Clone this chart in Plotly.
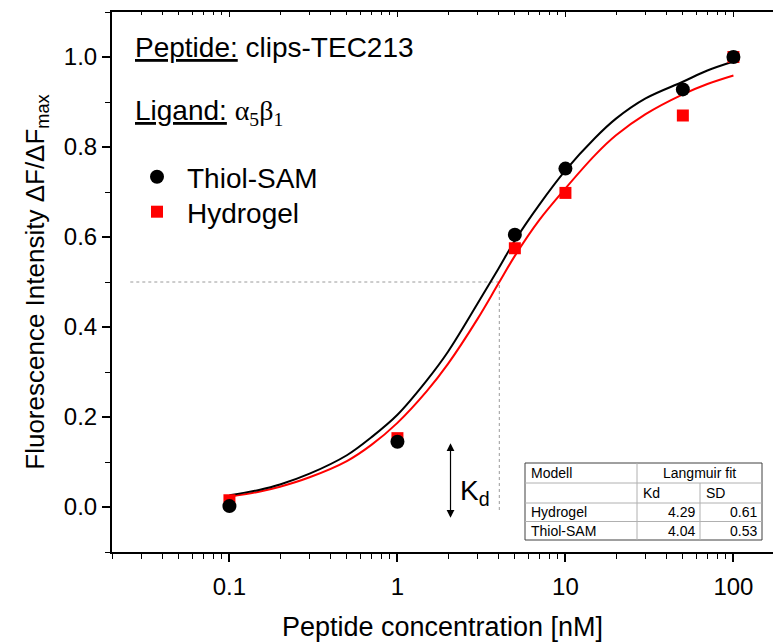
import math
import plotly.graph_objects as go

# ---------------- data ----------------
conc = [0.1, 1, 5, 10, 50, 100]                      # peptide concentration [nM]
thiol_sam = [0.002, 0.145, 0.605, 0.752, 0.928, 1.0]
hydrogel = [0.015, 0.153, 0.575, 0.698, 0.87, 1.0]

fit_x = [0.1, 0.15, 0.2, 0.3, 0.5, 0.7, 1, 1.5, 2, 3, 4, 5, 7, 10, 15, 20, 30, 50, 70, 100]
fit_thiol = [0.026, 0.038, 0.050, 0.074, 0.115, 0.155, 0.205, 0.282, 0.345, 0.452, 0.530, 0.592,
             0.672, 0.748, 0.820, 0.863, 0.908, 0.945, 0.970, 0.99]
fit_hydro = [0.023, 0.034, 0.045, 0.066, 0.102, 0.138, 0.187, 0.258, 0.318, 0.418, 0.497, 0.558,
             0.638, 0.708, 0.782, 0.826, 0.873, 0.917, 0.940, 0.959]

kd_ref = 4.04           # dotted guide (Thiol-SAM Kd)
half = 0.5
guide_x_start = 0.0257
guide_y_end = -0.01
arrow_x = 2.07
arrow_y = [-0.024, 0.145]

x_ticks = [0.1, 1, 10, 100]
x_ticktext = ["0.1", "1", "10", "100"]
minor_x = [m * 10 ** e for e in range(-2, 3) for m in range(2, 10)]

table_rows = [["Modell", "Langmuir fit", ""],
              ["", "Kd", "SD"],
              ["Hydrogel", "4.29", "0.61"],
              ["Thiol-SAM", "4.04", "0.53"]]

# ---------------- layout geometry ----------------
W, H = 773, 642
L, R, T, B = 112, 0, 12, 90
PW, PH = W - L - R, H - T - B
DECADE = 168.0
x_lo = math.log10(0.02)
x_hi = x_lo + PW / DECADE


def px_x(p):
    return (p - L) / PW


def px_y(p):
    return (H - B - p) / PH


FONT = "Liberation Sans, Arial, sans-serif"

fig = go.Figure()

# guide lines
fig.add_trace(go.Scatter(x=[guide_x_start, kd_ref, kd_ref], y=[half, half, guide_y_end],
                         mode="lines", line=dict(color="#9a9a9a", width=1, dash="dot"),
                         showlegend=False, hoverinfo="skip"))

# fit curves
fig.add_trace(go.Scatter(x=fit_x, y=fit_hydro, mode="lines", line=dict(color="#ff0000", width=2, shape="spline"),
                         showlegend=False, hoverinfo="skip"))
fig.add_trace(go.Scatter(x=fit_x, y=fit_thiol, mode="lines", line=dict(color="#000000", width=2, shape="spline"),
                         showlegend=False, hoverinfo="skip"))

# data points
fig.add_trace(go.Scatter(x=conc, y=hydrogel, mode="markers", name="Hydrogel",
                         marker=dict(symbol="square", size=12, color="#ff0000"),
                         legend="legend2"))
fig.add_trace(go.Scatter(x=conc, y=thiol_sam, mode="markers", name="Thiol-SAM",
                         marker=dict(symbol="circle", size=14, color="#000000"),
                         legend="legend"))

# invisible trace to activate the top axis
fig.add_trace(go.Scatter(x=[conc[0]], y=[None], xaxis="x2", mode="markers",
                         showlegend=False, hoverinfo="skip"))

BIG = 28
annotations = []
annotations.append(dict(xref="paper", yref="paper", x=px_x(133), y=px_y(48), xanchor="left", yanchor="middle",
                        text="<u>Peptide:</u> clips-TEC213", showarrow=False,
                        font=dict(family=FONT, size=BIG, color="black")))
annotations.append(dict(xref="paper", yref="paper", x=px_x(133), y=px_y(112), xanchor="left", yanchor="middle",
                        text="<u>Ligand:</u> <span style=\"font-family:'Liberation Serif'\">α<sub>5</sub>β<sub>1</sub></span>",
                        showarrow=False, font=dict(family=FONT, size=BIG, color="black")))
annotations.append(dict(xref="paper", yref="paper", x=px_x(458), y=px_y(492), xanchor="left", yanchor="middle",
                        text="K<sub>d</sub>", showarrow=False, font=dict(family=FONT, size=BIG, color="black")))
# Kd double arrow
annotations.append(dict(x=math.log10(arrow_x), y=arrow_y[0], ax=math.log10(arrow_x), ay=arrow_y[1],
                        xref="x", yref="y", axref="x", ayref="y", text="", showarrow=True,
                        arrowhead=2, startarrowhead=2, arrowside="end+start",
                        arrowwidth=1.2, arrowsize=1.3, startarrowsize=1.3, arrowcolor="black"))

# table
col_x = [525, 637, 700, 762]
row_y = [463, 483, 503, 521.5, 540]
shapes = []
shapes.append(dict(type="rect", xref="paper", yref="paper", x0=px_x(col_x[0]), x1=px_x(col_x[3]),
                   y0=px_y(row_y[0]), y1=px_y(row_y[4]), line=dict(color="#404040", width=1),
                   fillcolor="white", layer="above"))
for ry in row_y[1:4]:
    shapes.append(dict(type="line", xref="paper", yref="paper", x0=px_x(col_x[0]), x1=px_x(col_x[3]),
                       y0=px_y(ry), y1=px_y(ry), line=dict(color="#b0b0b0", width=1)))
shapes.append(dict(type="line", xref="paper", yref="paper", x0=px_x(col_x[1]), x1=px_x(col_x[1]),
                   y0=px_y(row_y[0]), y1=px_y(row_y[4]), line=dict(color="#b0b0b0", width=1)))
shapes.append(dict(type="line", xref="paper", yref="paper", x0=px_x(col_x[2]), x1=px_x(col_x[2]),
                   y0=px_y(row_y[1]), y1=px_y(row_y[4]), line=dict(color="#b0b0b0", width=1)))

TFONT = dict(family=FONT, size=14, color="black")
for ri, row in enumerate(table_rows):
    yc = px_y((row_y[ri] + row_y[ri + 1]) / 2)
    for ci, txt in enumerate(row):
        if not txt:
            continue
        if ri == 0 and ci == 1:
            x, xa = px_x((col_x[1] + col_x[3]) / 2), "center"
        elif ci == 0 or ri == 1:
            x, xa = px_x(col_x[ci] + 4), "left"
        else:
            x, xa = px_x(col_x[ci + 1] - 3), "right"
        annotations.append(dict(xref="paper", yref="paper", x=x, y=yc, xanchor=xa, yanchor="middle",
                                text=txt, showarrow=False, font=TFONT))

fig.update_layout(
    width=W, height=H,
    margin=dict(l=L, r=R, t=T, b=B, pad=0),
    paper_bgcolor="white", plot_bgcolor="white",
    font=dict(family=FONT, color="black"),
    xaxis=dict(type="log", range=[x_lo, x_hi], showline=True, linecolor="black", linewidth=2,
               tickmode="array", tickvals=x_ticks, ticktext=x_ticktext,
               ticks="outside", ticklen=8, tickwidth=1.5, tickcolor="black",
               ticklabelstandoff=4,
               tickfont=dict(family=FONT, size=24),
               minor=dict(tickmode="array", tickvals=minor_x, ticks="outside", ticklen=5,
                          tickwidth=1.2, tickcolor="black", showgrid=False),
               showgrid=False, zeroline=False,
               title=dict(text="Peptide concentration [nM]", font=dict(family=FONT, size=27), standoff=20)),
    xaxis2=dict(type="log", overlaying="x", matches="x", side="top", anchor="y", range=[x_lo, x_hi],
                showline=True, linecolor="black", linewidth=1.5,
                tickmode="array", tickvals=x_ticks, showticklabels=False,
                ticks="inside", ticklen=5, tickwidth=1, tickcolor="black",
                minor=dict(tickmode="array", tickvals=minor_x, ticks="inside", ticklen=3,
                           tickwidth=1, tickcolor="black", showgrid=False),
                showgrid=False, zeroline=False),
    yaxis=dict(range=[-0.1, 1.1], showline=True, linecolor="black", linewidth=2,
               tick0=0, dtick=0.2, tickformat=".1f",
               ticks="outside", ticklen=8, tickwidth=1.5, tickcolor="black",
               tickfont=dict(family=FONT, size=24),
               minor=dict(dtick=0.1, tick0=0, ticks="outside", ticklen=5, tickwidth=1.2,
                          tickcolor="black", showgrid=False),
               showgrid=False, zeroline=False,
               title=dict(text="Fluorescence Intensity ΔF/ΔF<sub>max</sub>",
                          font=dict(family=FONT, size=26), standoff=12)),
    legend=dict(x=px_x(127), y=px_y(177), xanchor="left", yanchor="middle", itemwidth=50,
                bgcolor="rgba(0,0,0,0)", font=dict(family=FONT, size=BIG)),
    legend2=dict(x=px_x(127), y=px_y(212), xanchor="left", yanchor="middle", itemwidth=50,
                 bgcolor="rgba(0,0,0,0)", font=dict(family=FONT, size=BIG)),
    annotations=annotations,
    shapes=shapes,
)

fig.write_html("out.html")
